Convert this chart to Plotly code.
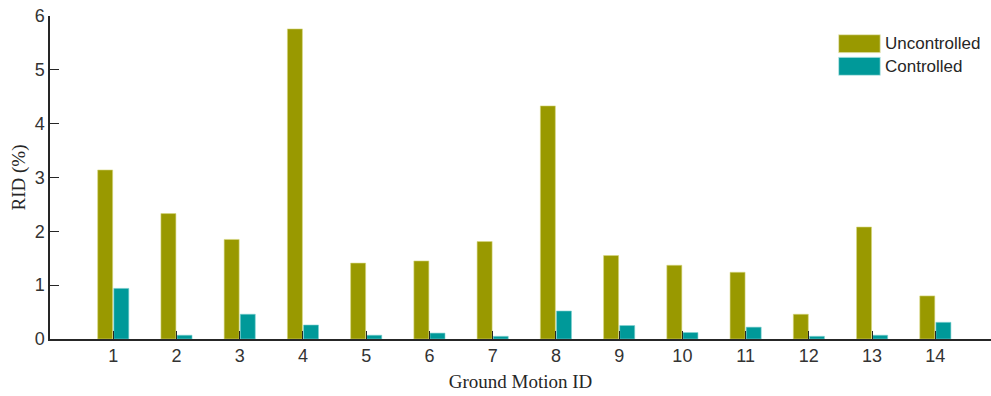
import plotly.graph_objects as go

ids = list(range(1, 15))
uncontrolled = [3.14, 2.33, 1.85, 5.76, 1.41, 1.45, 1.81, 4.33, 1.55, 1.37, 1.24, 0.46, 2.08, 0.80]
controlled = [0.94, 0.07, 0.46, 0.26, 0.07, 0.11, 0.05, 0.52, 0.25, 0.12, 0.22, 0.05, 0.07, 0.31]
series_names = ["Uncontrolled", "Controlled"]
colors = ["#999900", "#009999"]
edge_colors = ["#d6d680", "#7fd0d0"]

fig = go.Figure()
for name, vals, c, ec in zip(series_names, [uncontrolled, controlled], colors, edge_colors):
    fig.add_trace(go.Bar(x=ids, y=vals, name=name, marker=dict(color=c, line=dict(color=ec, width=0.6)),
                         showlegend=False))

# custom legend (wide swatches like the original)
for i, (name, c) in enumerate(zip(series_names, colors)):
    y0 = 34.7 + i * 22.6
    fig.add_shape(type="rect", xref="paper", yref="paper",
                  x0=(838.7 - 50.3) / (991 - 50.3), x1=(880.3 - 50.3) / (991 - 50.3),
                  y0=(339 - y0 - 18) / 323, y1=(339 - y0) / 323,
                  fillcolor=c, line=dict(color="#e8e8c0" if i == 0 else "#c0e8e8", width=0.8))
    fig.add_annotation(xref="paper", yref="paper",
                       x=(883 - 50.3) / (991 - 50.3), y=(339 - y0 - 9) / 323,
                       text=name, showarrow=False, xanchor="left", yanchor="middle",
                       font=dict(family="Liberation Sans, Arial", size=17, color="#262626"))

fig.update_layout(
    width=991, height=396,
    margin=dict(l=50, r=0, t=16, b=57),
    paper_bgcolor="white", plot_bgcolor="white",
    barmode="group", bargap=0.49, bargroupgap=0.07,
    font=dict(family="Liberation Sans, Arial", size=18, color="#262626"),
)
fig.update_xaxes(
    range=[0, 14.88], tickvals=ids, ticktext=[str(i) for i in ids],
    ticks="inside", ticklen=8, tickwidth=1.2, tickcolor="#262626",
    showline=True, linecolor="#262626", linewidth=1.5, showgrid=False, zeroline=False,
    tickfont=dict(size=18, color="#333333"),
    title=dict(text="Ground Motion ID", font=dict(family="Liberation Serif, Times New Roman", size=19, color="#262626"), standoff=9),
)
fig.update_yaxes(
    range=[0, 6], tickvals=[0, 1, 2, 3, 4, 5, 6],
    ticks="inside", ticklen=9, tickwidth=1.2, tickcolor="#262626",
    showline=True, linecolor="#262626", linewidth=1.5, showgrid=False, zeroline=False,
    tickfont=dict(size=18, color="#333333"),
    title=dict(text="RID (%)", font=dict(family="Liberation Serif, Times New Roman", size=19, color="#262626"), standoff=4),
)

fig.write_html("out.html")
